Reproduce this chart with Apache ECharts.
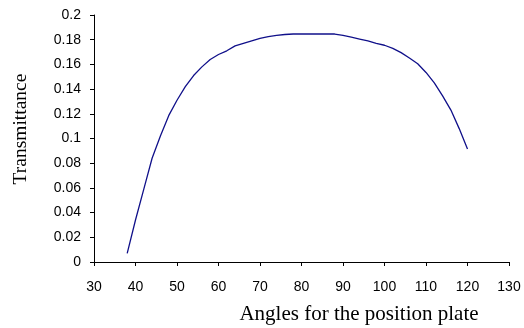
<!DOCTYPE html>
<html>
<head>
<meta charset="utf-8">
<script src="https://cdn.jsdelivr.net/npm/echarts@6/dist/echarts.min.js"></script>
<style>
  html, body { margin: 0; padding: 0; background: #fff; }
  #chart { width: 524px; height: 328px; }
</style>
</head>
<body>
<div id="chart"></div>
<script>
// data
var angles = [38, 40, 42, 44, 46, 48, 50, 52, 54, 56, 58, 60, 62, 64, 66, 68, 70, 72, 74, 76,
	78, 80, 82, 84, 86, 88, 90, 92, 94, 96, 98, 100, 102, 104, 106, 108, 110, 112, 114, 116, 118, 120];
var transmittance = [0.007, 0.034, 0.059, 0.084, 0.102, 0.1185, 0.131, 0.142, 0.151, 0.158, 0.164, 0.168,
	0.171, 0.175, 0.177, 0.179, 0.181, 0.1825, 0.1835, 0.1842,
	0.1846, 0.1846, 0.1846, 0.1846, 0.1846, 0.1846, 0.1835, 0.182, 0.1805, 0.179, 0.177, 0.1755,
	0.173, 0.1695, 0.1652, 0.1605, 0.1535, 0.145, 0.1345, 0.123, 0.108, 0.0915];

var points = angles.map(function (a, i) { return [a, transmittance[i]]; });

var chart = echarts.init(document.getElementById('chart'));

chart.setOption({
	animation: false,
	grid: { left: 94, right: 15, top: 15, bottom: 66, containLabel: false, outerBoundsMode: 'none' },
	xAxis: {
		type: 'value',
		min: 30,
		max: 130,
		interval: 10,
		name: 'Angles for the position plate',
		nameLocation: 'middle',
		nameGap: 42,
		nameTextStyle: {
			fontFamily: 'Liberation Serif',
			fontSize: 21,
			color: '#000',
			padding: [0, 0, 0, 115]
		},
		axisLine: { lineStyle: { color: '#000', width: 1 } },
		axisTick: { inside: false, length: 4, lineStyle: { color: '#000' } },
		axisLabel: { margin: 18, fontFamily: 'Liberation Sans', fontSize: 14, color: '#000' },
		splitLine: { show: false }
	},
	yAxis: {
		type: 'value',
		min: 0,
		max: 0.2,
		interval: 0.02,
		name: 'Transmittance',
		nameLocation: 'middle',
		nameGap: 63,
		nameRotate: 90,
		nameTextStyle: {
			fontFamily: 'Liberation Serif',
			fontSize: 19.5,
			color: '#000',
			padding: [0, 0, 0, 19]
		},
		axisLine: { show: true, lineStyle: { color: '#000', width: 1 } },
		axisTick: { show: true, inside: false, length: 4, lineStyle: { color: '#000' } },
		axisLabel: { margin: 13, fontFamily: 'Liberation Sans', fontSize: 14, color: '#000' },
		splitLine: { show: false }
	},
	series: [{
		type: 'line',
		data: points,
		showSymbol: false,
		lineStyle: { color: '#10108a', width: 1.3 }
	}]
});
</script>
</body>
</html>
